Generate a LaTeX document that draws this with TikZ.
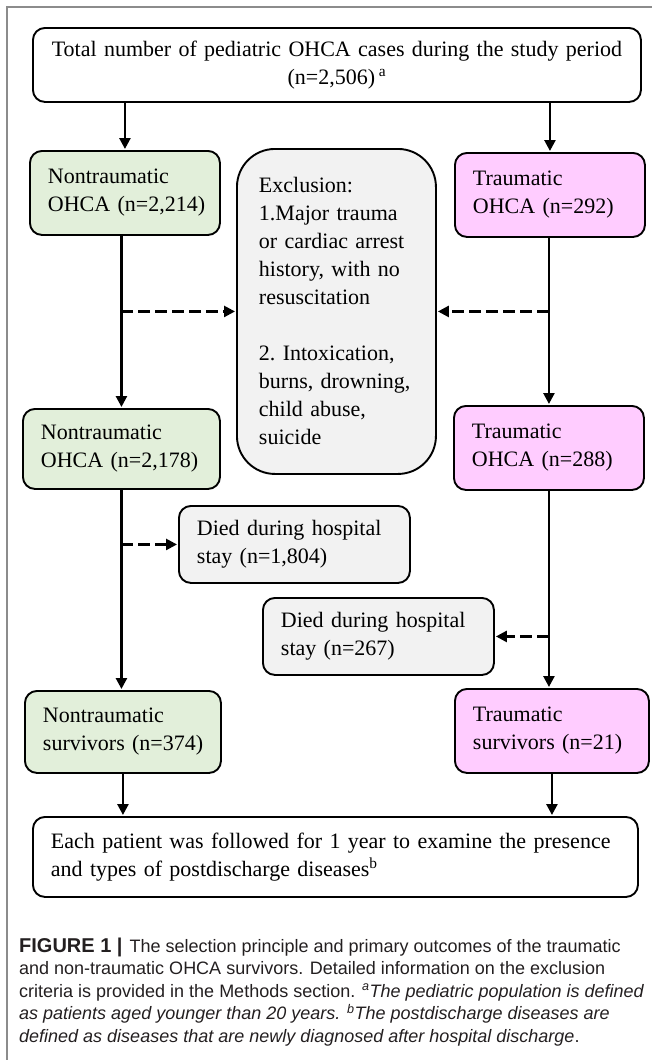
\documentclass[tikz,border=0pt]{standalone}
\usepackage{fontspec}
\setmainfont{Liberation Serif}
\setsansfont{Liberation Sans}
\usetikzlibrary{arrows.meta}
\definecolor{ntgreen}{RGB}{226,239,218}
\definecolor{tpink}{RGB}{255,204,255}
\definecolor{exgrey}{RGB}{242,242,242}
\definecolor{framegrey}{RGB}{140,140,140}
\definecolor{captext}{RGB}{35,31,32}
\begin{document}
\begin{tikzpicture}[x=1pt,y=-1pt,
  fbox/.style={draw, line width=1.9pt, rounded corners=12pt, inner xsep=18pt, inner ysep=0pt,
    anchor=north west, align=left, font=\fontsize{22}{28}\selectfont},
  green/.style={fbox, fill=ntgreen},
  pink/.style={fbox, fill=tpink},
  grey/.style={fbox, fill=exgrey},
  arr/.style={-{Triangle[length=11pt,width=11pt]}, line width=2.5pt, shorten >=1pt},
  darr/.style={arr, dash pattern=on 12pt off 5pt},
  capline/.style={anchor=base west, inner sep=0pt, text=captext, font=\sffamily\fontsize{18}{22}\selectfont},
]
\useasboundingbox (0,0) rectangle (652,1060);
\draw[framegrey, line width=1.2pt] (7,1060) -- (7,7) -- (652,7);

\node[fbox, align=center, text width=572, minimum height=74] (top) at (32,27)
  {Total number of pediatric OHCA cases during the study period\\(n=2,506)\,\textsuperscript{a}};

\node[green, text width=154, minimum height=84] (nt1) at (29,150) {Nontraumatic\\OHCA~(n=2,214)};
\node[grey, rounded corners=38pt, inner xsep=22pt, text width=155, minimum height=325] (excl) at (236,148)
  {Exclusion:\\1.Major~trauma\\or~cardiac~arrest\\history,~with~no\\resuscitation\\[28pt]2.~Intoxication,\\burns,~drowning,\\child~abuse,\\suicide};
\node[pink, text width=154, minimum height=84] (t1) at (454,152) {Traumatic\\OHCA~(n=292)};

\node[green, text width=161, minimum height=80] (nt2) at (22,408) {Nontraumatic\\OHCA~(n=2,178)};
\node[pink, text width=154, minimum height=84] (t2) at (453,405) {Traumatic\\OHCA~(n=288)};

\node[grey, text width=195, minimum height=77] (d1) at (178,505) {Died~during~hospital\\stay~(n=1,804)};
\node[grey, text width=195, minimum height=77] (d2) at (262,597) {Died~during~hospital\\stay~(n=267)};

\node[green, text width=160, minimum height=82] (nts) at (24,690) {Nontraumatic\\survivors~(n=374)};
\node[pink, text width=158, minimum height=84] (ts) at (454,688) {Traumatic\\survivors~(n=21)};

\node[fbox, text width=569, minimum height=80] (bot) at (32,816)
  {Each patient was followed for 1 year to examine the presence\\and types of postdischarge diseases\textsuperscript{b}};

% connectors
\draw[arr] (top.south -| nt1.north) -- (nt1.north);
\draw[arr] (top.south -| t1.north) -- (t1.north);
\draw[arr] (nt1.south -| nt2.north) -- (nt2.north);
\draw[arr] (t1.south -| t2.north) -- (t2.north);
\coordinate (jl) at (excl.west -| nt2.north);
\coordinate (jr) at (excl.east -| t2.north);
\draw[darr] (jl) -- (excl.west);
\draw[darr] (jr) -- (excl.east);
\draw[arr] (nt2.south) -- (nt2.south |- nts.north);
\draw[arr] (t2.south) -- (t2.south |- ts.north);
\coordinate (jd1) at (d1.west -| nt2.south);
\coordinate (jd2) at (d2.east -| t2.south);
\draw[darr] (jd1) -- (d1.west);
\draw[darr] (jd2) -- (d2.east);
\draw[arr] (nts.south) -- (nts.south |- bot.north);
\draw[arr] (ts.south) -- (ts.south |- bot.north);

% caption
\node[capline] (c1) at (19,952) {{\fontsize{20}{22}\selectfont\bfseries FIGURE 1 \textbar}\hspace{2pt} The selection principle and primary outcomes of the traumatic};
\node[capline] (c2) at (19,974.5) {and non-traumatic OHCA survivors. Detailed information on the exclusion};
\node[capline] (c3) at (19,997) {criteria is provided in the Methods section. \textsuperscript{\itshape a}\textit{The pediatric population is defined}};
\node[capline] (c4) at (19,1019.5) {\textit{as patients aged younger than 20 years. \textsuperscript{b}The postdischarge diseases are}};
\node[capline] (c5) at (19,1042) {\textit{defined as diseases that are newly diagnosed after hospital discharge}.};
\end{tikzpicture}
\end{document}
